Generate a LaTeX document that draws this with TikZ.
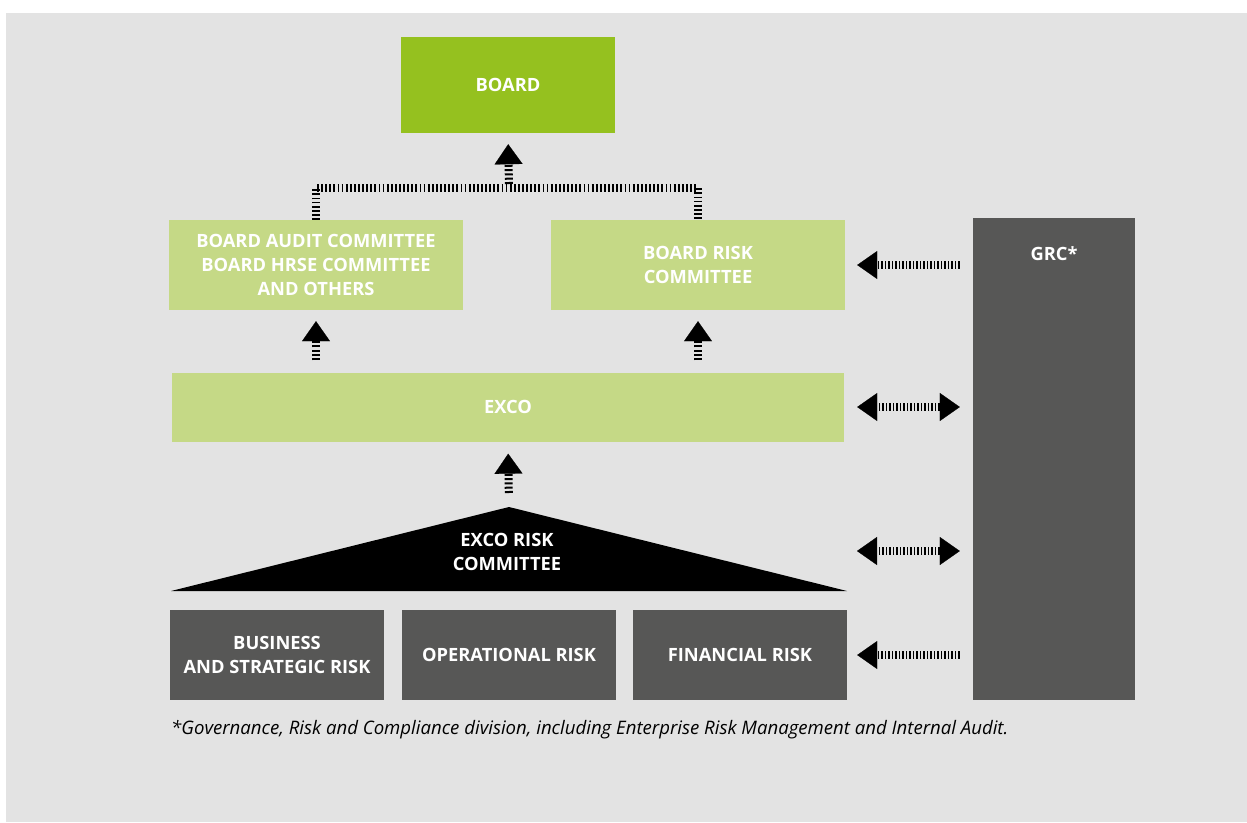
\documentclass[tikz,border=0pt]{standalone}
\usepackage{fontspec}
\setmainfont{Open Sans}
\usetikzlibrary{arrows.meta}
\definecolor{bgc}{HTML}{E3E3E3}
\definecolor{boardgreen}{HTML}{95C11F}
\definecolor{lightgreen}{HTML}{C5D986}
\definecolor{darkgray}{HTML}{575756}
\tikzset{
  box/.style={rectangle, inner sep=0pt, text=white, align=center,
    font=\bfseries\fontsize{18.3}{24}\selectfont},
  greenbox/.style={box, fill=boardgreen},
  lightbox/.style={box, fill=lightgreen},
  darkbox/.style={box, fill=darkgray},
  headtip/.tip={Triangle[length=20pt,width=28pt,line width=0.2pt]},
  vstem/.style={black, line width=8pt, dash pattern=on 2pt off 2.3pt},
  hstem/.style={black, line width=8pt, dash pattern=on 1.4pt off 2.1pt},
  upconn/.style={vstem, -headtip},
  sideconn/.style={hstem, -headtip},
  dualconn/.style={hstem, headtip-headtip},
  joinline/.style={black, line width=8pt, dash pattern=on 1.8pt off 2.3pt},
}
\begin{document}
\begin{tikzpicture}[x=1pt,y=-1pt]
\useasboundingbox (0,0) rectangle (1247,822);
\fill[white] (0,0) rectangle (1247,822);
\fill[bgc] (6,13) rectangle (1247,822);

% boxes
\node[greenbox, minimum width=214pt, minimum height=96pt] (board) at (508,85) {BOARD};
\node[lightbox, minimum width=294pt, minimum height=90pt] (bac) at (316,265)
  {BOARD AUDIT COMMITTEE\\BOARD HRSE COMMITTEE\\AND OTHERS};
\node[lightbox, minimum width=294pt, minimum height=90pt] (brc) at (698,265)
  {BOARD RISK\\COMMITTEE};
\node[lightbox, minimum width=672pt, minimum height=69pt] (exco) at (508,407) {EXCO};
\node[darkbox, minimum width=214pt, minimum height=90pt] (bus) at (277,655)
  {BUSINESS\\AND STRATEGIC RISK};
\node[darkbox, minimum width=214pt, minimum height=90pt] (oper) at (509,655)
  {OPERATIONAL RISK};
\node[darkbox, minimum width=214pt, minimum height=90pt] (fin) at (740,655)
  {FINANCIAL RISK};
\node[darkbox, minimum width=162pt, minimum height=482pt] (grc) at (1054,459) {};
\node[box] (grclabel) at (1054,254) {GRC*};

% triangle
\fill[black] (171,591) -- (509,507) -- (847,591) -- cycle;
\coordinate (apex) at (509,507);
\coordinate (trieast) at (847,551);
\node[box] (erc) at (507,551.5) {EXCO RISK\\COMMITTEE};

% connectors
\coordinate (junction) at (509,188);
\draw[joinline] (bac.north) -- (bac.north |- junction) -- (brc.north |- junction) -- (brc.north);
\draw[upconn, shorten <=4pt, shorten >=11pt] (junction) -- (board.south);
\draw[upconn, shorten <=12pt, shorten >=11pt] (exco.north -| bac.south) -- (bac.south);
\draw[upconn, shorten <=12pt, shorten >=11pt] (exco.north -| brc.south) -- (brc.south);
\draw[upconn, shorten <=14pt, shorten >=12pt] (apex) -- (exco.south);

\draw[sideconn, shorten <=13pt, shorten >=12pt] (grc.west |- brc.east) -- (brc.east);
\draw[dualconn, shorten <=13pt, shorten >=13pt] (grc.west |- exco.east) -- (exco.east);
\draw[dualconn, shorten <=13pt, shorten >=10pt] (grc.west |- trieast) -- (trieast);
\draw[sideconn, shorten <=13pt, shorten >=10pt] (grc.west |- fin.east) -- (fin.east);

% footnote
\node[anchor=base west, inner sep=0pt, font=\itshape\fontsize{18.6}{22}\selectfont, text=black] (note) at (171,734)
  {*Governance, Risk and Compliance division, including Enterprise Risk Management and Internal Audit.};
\end{tikzpicture}
\end{document}
